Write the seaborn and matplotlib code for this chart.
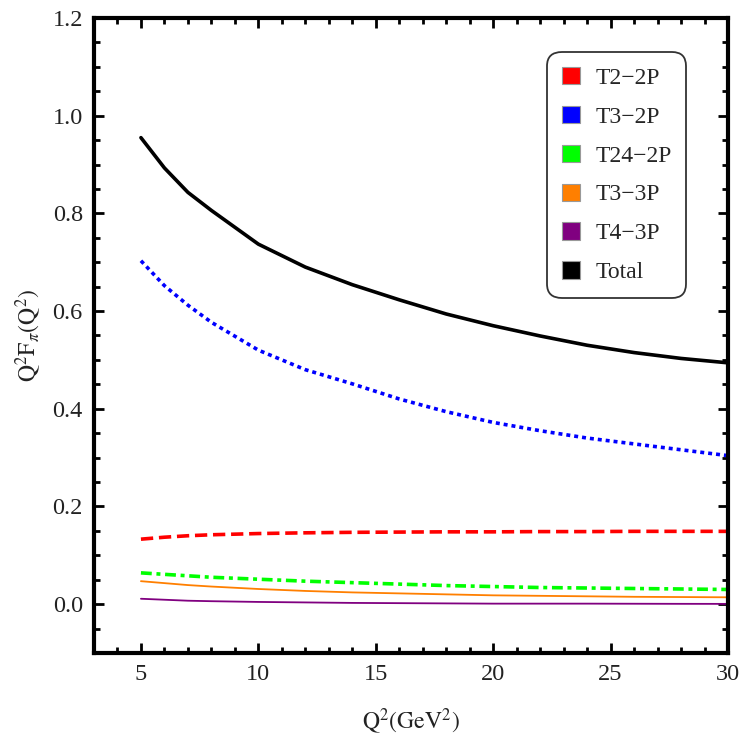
import matplotlib
matplotlib.use("Agg")
import matplotlib.pyplot as plt
import seaborn as sns
import numpy as np
import pandas as pd
from matplotlib.patches import Patch
from matplotlib.ticker import MultipleLocator

# Data
q2 = [5, 6, 7, 8, 10, 12, 14, 16, 18, 20, 22, 24, 26, 28, 30]
t2_2p = [0.133, 0.137, 0.140, 0.142, 0.1445, 0.146, 0.147, 0.1475, 0.148, 0.148, 0.1485, 0.1485, 0.149, 0.149, 0.149]
t3_2p = [0.703, 0.652, 0.612, 0.577, 0.520, 0.480, 0.451, 0.420, 0.394, 0.372, 0.355, 0.340, 0.328, 0.316, 0.304]
t24_2p = [0.064, 0.061, 0.058, 0.055, 0.051, 0.047, 0.044, 0.041, 0.038, 0.036, 0.034, 0.033, 0.032, 0.031, 0.030]
t3_3p = [0.047, 0.043, 0.039, 0.036, 0.031, 0.027, 0.024, 0.022, 0.020, 0.018, 0.017, 0.016, 0.015, 0.0145, 0.014]
t4_3p = [0.011, 0.009, 0.007, 0.006, 0.0045, 0.0035, 0.0025, 0.002, 0.0015, 0.001, 0.001, 0.001, 0.0008, 0.0006, 0.0005]
total = [0.955, 0.893, 0.843, 0.806, 0.737, 0.690, 0.654, 0.623, 0.594, 0.570, 0.549, 0.530, 0.515, 0.503, 0.494]

labels = ["T2\u22122P", "T3\u22122P", "T24\u22122P", "T3\u22123P", "T4\u22123P", "Total"]
colors = ["#ff0000", "#0000ff", "#00ff00", "#ff7f00", "#800080", "#000000"]

sns.set_style("white")
plt.rcParams['font.family'] = ['Liberation Serif', 'DejaVu Serif']
plt.rcParams['mathtext.fontset'] = 'stix'

fig = plt.figure(figsize=(7.5, 7.4), dpi=100)
ax = fig.add_axes([0.1253, 0.1176, 0.8454, 0.8581])

series = [t2_2p, t3_2p, t24_2p, t3_3p, t4_3p, total]
styles = [
    dict(lw=2.6, dashes=(3.4, 1.6)),
    dict(lw=2.6, dashes=(1.1, 1.1)),
    dict(lw=2.6, dashes=(3.0, 1.3, 1.1, 1.3)),
    dict(lw=1.3),
    dict(lw=1.3),
    dict(lw=2.6),
]
for ys, c, st in zip(series, colors, styles):
    sns.lineplot(x=q2, y=ys, ax=ax, legend=False, color=c, linewidth=st['lw'])
    line = ax.lines[-1]
    if 'dashes' in st:
        line.set_dashes(st['dashes'])
        line.set_dash_capstyle('butt')

ax.set_xlim(3, 30)
ax.set_ylim(-0.1, 1.2)
ax.xaxis.set_major_locator(MultipleLocator(5))
ax.xaxis.set_minor_locator(MultipleLocator(1))
ax.yaxis.set_major_locator(MultipleLocator(0.2))
ax.yaxis.set_minor_locator(MultipleLocator(0.05))
ax.yaxis.set_major_formatter(matplotlib.ticker.FormatStrFormatter('%.1f'))

for sp in ax.spines.values():
    sp.set_linewidth(3.0)
    sp.set_color('black')
ax.tick_params(which='both', direction='in', top=True, right=True, bottom=True, left=True,
               colors='black', width=2.0)
ax.tick_params(which='major', length=7, labelsize=17.5, pad=8)
ax.tick_params(which='minor', length=4)
for t in ax.get_xticklabels() + ax.get_yticklabels():
    t.set_color('#222222')

ax.set_xlabel(r"$\mathrm{Q}^{2}\mathrm{(GeV}^{2}\mathrm{)}$", fontsize=17, color='#222222', labelpad=16)
ax.set_ylabel(r"$\mathrm{Q}^{2}\mathrm{F}_{\pi}\mathrm{(Q}^{2}\mathrm{)}$", fontsize=17, color='#222222', labelpad=6)

handles = [Patch(facecolor=c, edgecolor='#999999', linewidth=0.8) for c in colors]
leg = ax.legend(handles, labels, loc='upper right', bbox_to_anchor=(0.934, 0.946),
                frameon=True, fancybox=True, fontsize=17, handlelength=0.75, handleheight=0.75,
                labelspacing=0.72, borderpad=0.62, handletextpad=0.65, borderaxespad=0)
frame = leg.get_frame()
frame.set_edgecolor('black')
frame.set_linewidth(1.3)
frame.set_boxstyle('round,pad=0,rounding_size=0.6')

fig.savefig("out.png", dpi=100)
